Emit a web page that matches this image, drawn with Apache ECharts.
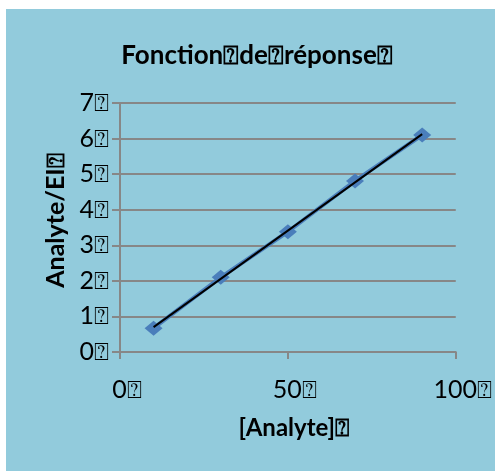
<!DOCTYPE html>
<html>
<head>
<meta charset="utf-8">
<script src="https://cdn.jsdelivr.net/npm/echarts@6/dist/echarts.min.js"></script>
<style>
  html, body { margin: 0; padding: 0; background: #ffffff; }
  #chart { width: 495px; height: 471px; }
</style>
</head>
<body>
<div id="chart"></div>
<script>
// Calibration data: analyte concentration vs. analyte / internal standard ratio
const concentrations = [10, 30, 50, 70, 90];
const ratios = [0.67, 2.10, 3.38, 4.81, 6.10];
const yTicks = ['0', '1', '2', '3', '4', '5', '6', '7'];
const xTicks = ['0', '50', '100'];
const mark = '\u2370';

const titleText = 'Fonction' + mark + 'de' + mark + 'réponse' + mark;
const xName = '[Analyte]' + mark;
const yName = 'Analyte/EI' + mark;

// Least-squares trend line through the calibration points
function linearFit(xs, ys) {
  const n = xs.length;
  const mx = xs.reduce((a, b) => a + b, 0) / n;
  const my = ys.reduce((a, b) => a + b, 0) / n;
  let sxy = 0, sxx = 0;
  for (let i = 0; i < n; i++) {
    sxy += (xs[i] - mx) * (ys[i] - my);
    sxx += (xs[i] - mx) * (xs[i] - mx);
  }
  const slope = sxy / sxx;
  return { slope, intercept: my - slope * mx };
}
const fit = linearFit(concentrations, ratios);
const xMin = Math.min(...concentrations), xMax = Math.max(...concentrations);
const trend = [[xMin, fit.intercept + fit.slope * xMin], [xMax, fit.intercept + fit.slope * xMax]];

const points = concentrations.map((c, i) => [c, ratios[i]]);
const font = 'Lato';
const gridColor = '#878787';

const chart = echarts.init(document.getElementById('chart'), null, { renderer: 'canvas' });
chart.setOption({
  animation: false,
  backgroundColor: '#ffffff',
  graphic: [{
    type: 'rect', z: -10, silent: true,
    shape: { x: 6, y: 9, width: 489, height: 462 },
    style: { fill: '#92cbdc' }
  }],
  title: {
    text: titleText,
    left: 252, top: 38, textAlign: 'center',
    textStyle: { fontFamily: font, fontWeight: 'bold', fontSize: 26, color: '#000' }
  },
  grid: { left: 120, right: 39, top: 103, bottom: 119 },
  xAxis: {
    type: 'value', min: 0, max: 100, interval: 50,
    name: xName, nameLocation: 'middle', nameGap: 64,
    nameTextStyle: { fontFamily: font, fontWeight: 'bold', fontSize: 24, color: '#000', padding: [0, 0, 0, 12] },
    axisLine: { show: true, onZero: false, lineStyle: { color: gridColor, width: 2 } },
    axisTick: { show: true, length: 7, lineStyle: { color: gridColor, width: 2 } },
    splitLine: { show: false },
    axisLabel: {
      fontFamily: font, fontSize: 25, color: '#000', margin: 25, padding: [0, 0, 0, 14],
      formatter: v => xTicks[Math.round(v / 50)] + mark
    }
  },
  yAxis: {
    type: 'value', min: 0, max: 7, interval: 1,
    name: yName, nameLocation: 'middle', nameGap: 52,
    nameTextStyle: { fontFamily: font, fontWeight: 'bold', fontSize: 25, color: '#000', padding: [0, 0, 0, 14] },
    axisLine: { show: true, lineStyle: { color: gridColor, width: 2 } },
    axisTick: { show: true, length: 8, lineStyle: { color: gridColor, width: 2 } },
    splitLine: { show: true, lineStyle: { color: gridColor, width: 2 } },
    axisLabel: {
      fontFamily: font, fontSize: 25, color: '#000', margin: 11,
      formatter: v => yTicks[v] + mark
    }
  },
  series: [
    {
      type: 'line', data: points,
      symbol: 'diamond', symbolSize: [18, 15],
      itemStyle: { color: '#4a7ebb' },
      lineStyle: { color: '#4a7ebb', width: 4 },
      z: 2
    },
    {
      type: 'line', data: trend,
      symbol: 'none',
      lineStyle: { color: '#000', width: 2 },
      z: 3
    }
  ]
});
</script>
</body>
</html>
